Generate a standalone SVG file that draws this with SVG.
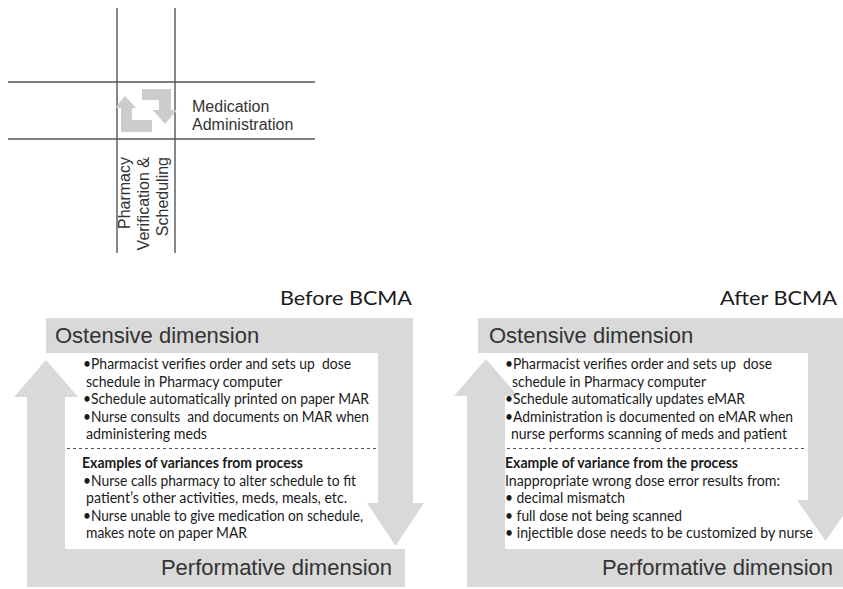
<svg xmlns="http://www.w3.org/2000/svg" width="843" height="589" viewBox="0 0 843 589">
<style>
.grid{stroke:#555;stroke-width:1.4;fill:none}
.icon{fill:#cccccc}
.band{fill:#d9d9d9}
.lbl{font-family:"Liberation Sans",Arial,sans-serif;font-size:16px;fill:#333}
.dim{font-family:"Liberation Sans",Arial,sans-serif;font-size:22px;fill:#333}
.ttl{font-family:Lato,"Open Sans",sans-serif;font-size:20px;fill:#1a1a1a}
.txt{font-family:Lato,"Open Sans",sans-serif;font-size:14.5px;fill:#1a1a1a}
.bold{font-weight:bold}
.dash{stroke:#555;stroke-width:1.2;stroke-dasharray:3 3;fill:none}
</style>
<rect width="843" height="589" fill="#ffffff"/>

<g id="grid">
<line class="grid" x1="117" y1="8" x2="117" y2="253"/>
<line class="grid" x1="175" y1="8" x2="175" y2="253"/>
<line class="grid" x1="8" y1="82" x2="315" y2="82"/>
<line class="grid" x1="8" y1="139" x2="315" y2="139"/>
</g>

<g id="cycle-icon">
<polygon class="icon" points="115,108 125,96 136,108 132,108 132,120 152,120 152,132 121,132 121,108"/>
<polygon class="icon" points="142,89 171,89 171,110 177,110 165,124 153,110 159,110 159,100 142,100"/>
</g>

<g id="label-medication-administration">
<text class="lbl" x="192" y="112">Medication</text>
<text class="lbl" x="192" y="130">Administration</text>
</g>

<g id="label-pharmacy">
<text class="lbl" transform="translate(130,157) rotate(-90)" text-anchor="end">Pharmacy</text>
<text class="lbl" transform="translate(149,157) rotate(-90)" text-anchor="end">Verification &amp;</text>
<text class="lbl" transform="translate(168,157) rotate(-90)" text-anchor="end">Scheduling</text>
</g>

<g id="connectors">
<rect class="band" x="46" y="318" width="367" height="35"/>
<polygon class="band" points="378,353 413,353 413,503 424,503 395.5,546 367,503 378,503"/>
<rect class="band" x="27" y="549" width="378" height="38"/>
<polygon class="band" points="27,549 27,397 14,397 46,360 78,397 65,397 65,549"/>

<rect class="band" x="478" y="318" width="365" height="35"/>
<polygon class="band" points="808,353 843,353 843,500 854,500 825.5,541 797,500 808,500"/>
<rect class="band" x="467" y="549" width="376" height="38"/>
<polygon class="band" points="467,549 467,396 454,396 486,359 518,396 505,396 505,549"/>
</g>

<g id="panel-before">
<text class="ttl" x="412" y="305" text-anchor="end" textLength="132" lengthAdjust="spacingAndGlyphs">Before BCMA</text>
<text class="dim" x="55" y="343">Ostensive dimension</text>
<text class="txt" x="83" y="369" textLength="268" lengthAdjust="spacingAndGlyphs">•Pharmacist verifies order and sets up&#160; dose</text>
<text class="txt" x="86" y="387" textLength="196" lengthAdjust="spacingAndGlyphs">schedule in Pharmacy computer</text>
<text class="txt" x="83" y="404" textLength="286" lengthAdjust="spacingAndGlyphs">•Schedule automatically printed on paper MAR</text>
<text class="txt" x="83" y="422" textLength="286" lengthAdjust="spacingAndGlyphs">•Nurse consults&#160; and documents on MAR when</text>
<text class="txt" x="86" y="439" textLength="121" lengthAdjust="spacingAndGlyphs">administering meds</text>
<line class="dash" x1="67" y1="448.5" x2="376" y2="448.5"/>
<text class="txt bold" x="82" y="468" textLength="221" lengthAdjust="spacingAndGlyphs">Examples of variances from process</text>
<text class="txt" x="83" y="486" textLength="273" lengthAdjust="spacingAndGlyphs">•Nurse calls pharmacy to alter schedule to fit</text>
<text class="txt" x="86" y="503" textLength="261" lengthAdjust="spacingAndGlyphs">patient’s other activities, meds, meals, etc.</text>
<text class="txt" x="83" y="521" textLength="280" lengthAdjust="spacingAndGlyphs">•Nurse unable to give medication on schedule,</text>
<text class="txt" x="86" y="538" textLength="161" lengthAdjust="spacingAndGlyphs">makes note on paper MAR</text>
<text class="dim" x="392" y="575" text-anchor="end">Performative dimension</text>
</g>

<g id="panel-after">
<text class="ttl" x="837" y="305" text-anchor="end" textLength="117" lengthAdjust="spacingAndGlyphs">After BCMA</text>
<text class="dim" x="489" y="343">Ostensive dimension</text>
<text class="txt" x="505" y="369" textLength="267" lengthAdjust="spacingAndGlyphs">•Pharmacist verifies order and sets up&#160; dose</text>
<text class="txt" x="512" y="387" textLength="194" lengthAdjust="spacingAndGlyphs">schedule in Pharmacy computer</text>
<text class="txt" x="505" y="404" textLength="240" lengthAdjust="spacingAndGlyphs">•Schedule automatically updates eMAR</text>
<text class="txt" x="505" y="422" textLength="288" lengthAdjust="spacingAndGlyphs">•Administration is documented on eMAR when</text>
<text class="txt" x="511" y="439" textLength="276" lengthAdjust="spacingAndGlyphs">nurse performs scanning of meds and patient</text>
<line class="dash" x1="507" y1="448.5" x2="807" y2="448.5"/>
<text class="txt bold" x="505" y="468" textLength="233" lengthAdjust="spacingAndGlyphs">Example of variance from the process</text>
<text class="txt" x="505" y="486" textLength="275" lengthAdjust="spacingAndGlyphs">Inappropriate wrong dose error results from:</text>
<text class="txt" x="505" y="503" textLength="120" lengthAdjust="spacingAndGlyphs">• decimal mismatch</text>
<text class="txt" x="505" y="521" textLength="177" lengthAdjust="spacingAndGlyphs">• full dose not being scanned</text>
<text class="txt" x="505" y="538" textLength="308" lengthAdjust="spacingAndGlyphs">• injectible dose needs to be customized by nurse</text>
<text class="dim" x="833" y="575" text-anchor="end">Performative dimension</text>
</g>
</svg>
